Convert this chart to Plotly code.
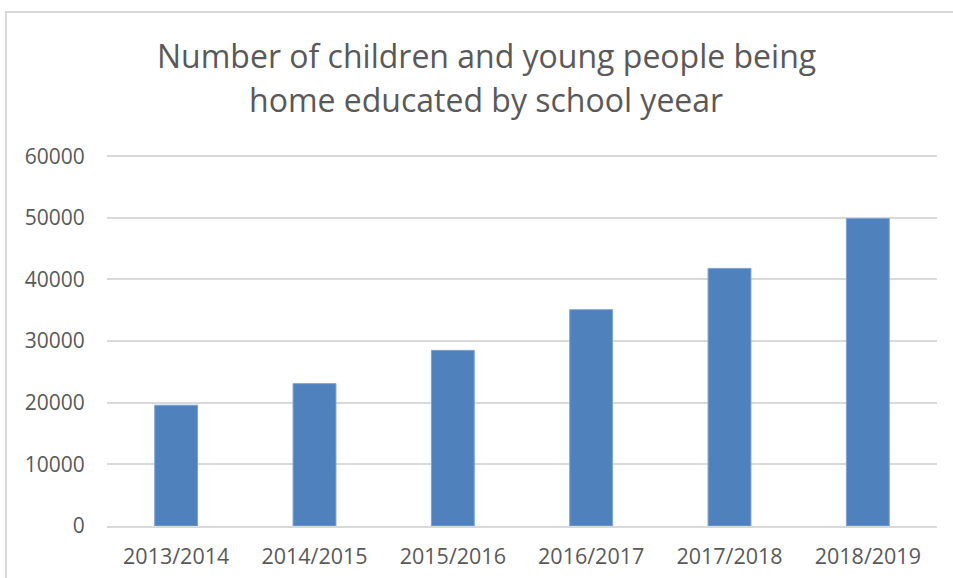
import plotly.graph_objects as go

# School years and number of home-educated children / young people
school_years = ["2013/2014", "2014/2015", "2015/2016", "2016/2017", "2017/2018", "2018/2019"]
home_educated = [19600, 23100, 28500, 35100, 41800, 49900]
y_ticks = [0, 10000, 20000, 30000, 40000, 50000, 60000]

title_lines = ["Number of children and young people being", "home educated by school yeear"]

W, H = 953, 578
L, R, T, B = 107, 16, 155, 52
plot_w, plot_h = W - L - R, H - T - B
y_max = 60200  # a little headroom so the 60000 gridline is drawn

def px_to_paper_x(px):
    return (px - L) / plot_w

def px_to_paper_y(py):
    return (H - B - py) / plot_h

text_grey = "#595959"
grid_grey = "#d9d9d9"
font = "Open Sans"

fig = go.Figure(
    go.Bar(
        x=school_years,
        y=home_educated,
        width=0.31,
        marker=dict(color="#4f81bd", line=dict(color="#7ea3d0", width=1)),
    )
)

fig.update_layout(
    width=W,
    height=H,
    margin=dict(l=L, r=R, t=T, b=B, autoexpand=False),
    paper_bgcolor="white",
    plot_bgcolor="white",
    showlegend=False,
    font=dict(family=font, color=text_grey, size=21),
    xaxis=dict(
        automargin=False,
        showgrid=False,
        showline=True,
        linecolor=grid_grey,
        linewidth=1.5,
        ticks="outside",
        ticklen=10,
        tickcolor="rgba(0,0,0,0)",
        tickfont=dict(size=21.5, color=text_grey),
    ),
    yaxis=dict(
        automargin=False,
        range=[0, y_max],
        tickvals=y_ticks,
        ticktext=[str(v) for v in y_ticks],
        showgrid=True,
        gridcolor=grid_grey,
        gridwidth=1.5,
        zeroline=False,
        showline=False,
        ticks="outside",
        ticklen=17,
        tickcolor="rgba(0,0,0,0)",
        tickfont=dict(size=21, color=text_grey),
    ),
    shapes=[
        dict(
            type="rect",
            xref="paper",
            yref="paper",
            x0=px_to_paper_x(6),
            x1=px_to_paper_x(970),
            y0=px_to_paper_y(600),
            y1=px_to_paper_y(12),
            line=dict(color=grid_grey, width=2),
            fillcolor="rgba(0,0,0,0)",
            layer="below",
        )
    ],
    annotations=[
        dict(
            text=title_lines[0],
            xref="paper",
            yref="paper",
            x=px_to_paper_x(486),
            y=px_to_paper_y(56),
            xanchor="center",
            yanchor="middle",
            showarrow=False,
            font=dict(family=font, size=32, color=text_grey),
        ),
        dict(
            text=title_lines[1],
            xref="paper",
            yref="paper",
            x=px_to_paper_x(486),
            y=px_to_paper_y(100),
            xanchor="center",
            yanchor="middle",
            showarrow=False,
            font=dict(family=font, size=32, color=text_grey),
        ),
    ],
)

fig.write_html("out.html")
